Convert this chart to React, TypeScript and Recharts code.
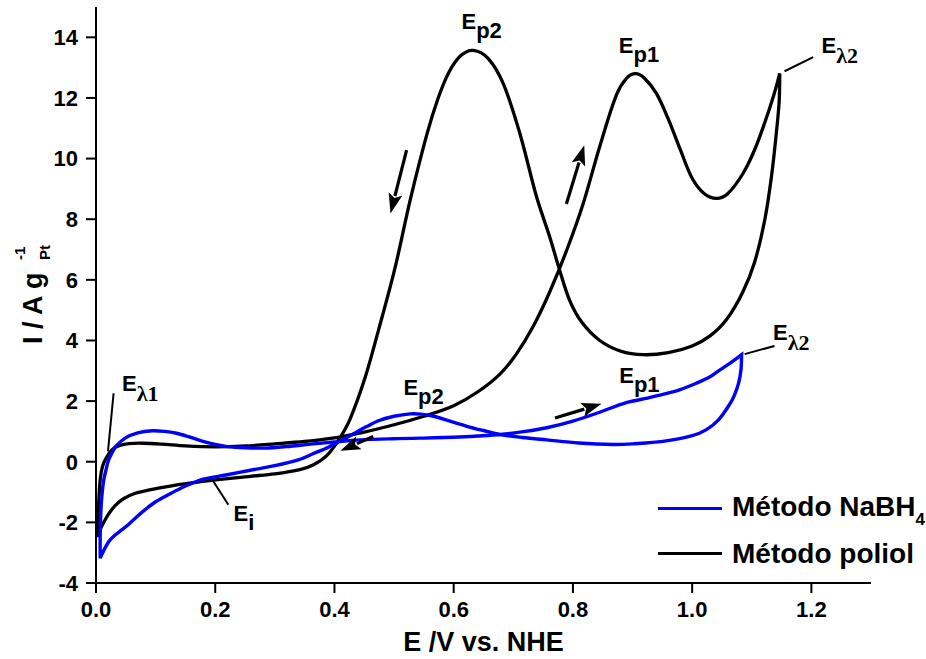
import React from 'react';
import { ComposedChart, Line, XAxis, YAxis, ReferenceLine, ReferenceDot, Legend } from 'recharts';

const FONT = '"Liberation Sans", Arial, Helvetica, sans-serif';
const SERIF = '"Liberation Serif", "Times New Roman", serif';

// Método poliol (black) – potential (V) and current (A/g)
const poliolE = [
  0.2, 0.16, 0.122, 0.09, 0.066, 0.046, 0.032, 0.022, 0.015, 0.009, 0.005, 0.003, 0.003,
  0.004, 0.007, 0.011, 0.017, 0.027, 0.04, 0.055, 0.08, 0.11, 0.15, 0.2, 0.25, 0.3, 0.35, 0.4,
  0.45, 0.5, 0.55, 0.6, 0.64, 0.678, 0.705, 0.733, 0.761, 0.79, 0.817, 0.845, 0.873, 0.89, 0.905,
  0.92, 0.94, 0.96, 0.98, 1.0, 1.02, 1.041, 1.06, 1.085, 1.105, 1.122, 1.137, 1.147, 1.147,
  1.146, 1.141, 1.133, 1.122, 1.105, 1.085, 1.058, 1.03, 1.0, 0.96, 0.918, 0.88, 0.845, 0.815,
  0.795, 0.778, 0.761, 0.739, 0.711, 0.683, 0.658, 0.633, 0.612, 0.592, 0.574, 0.555, 0.527,
  0.502, 0.474, 0.451, 0.426, 0.407, 0.387, 0.365, 0.342, 0.3, 0.259, 0.2,
];
const poliolI = [
  -0.6, -0.7, -0.81, -0.93, -1.04, -1.22, -1.45, -1.7, -1.93, -2.15, -2.35, -2.48, -2.48,
  -1.6, -0.6, -0.15, 0.12, 0.4, 0.54, 0.6, 0.61, 0.58, 0.52, 0.49, 0.52, 0.59, 0.67, 0.79,
  0.98, 1.22, 1.5, 1.85, 2.3, 2.9, 3.55, 4.45, 5.6, 7.0, 8.5, 10.4, 12.1, 12.65, 12.8,
  12.65, 12.15, 11.3, 10.3, 9.35, 8.85, 8.69, 8.85, 9.5, 10.3, 11.2, 12.1, 12.81, 12.81,
  11.9, 10.8, 9.4, 8.0, 6.6, 5.6, 4.7, 4.15, 3.82, 3.6, 3.53, 3.65, 4.0, 4.6,
  5.3, 6.3, 7.42, 8.74, 10.83, 12.48, 13.3, 13.57, 13.4, 12.85, 12.0, 10.8, 8.63,
  6.43, 4.35, 2.75, 1.4, 0.72, 0.2, -0.1, -0.26, -0.4, -0.48, -0.6,
];

// Método NaBH4 (blue)
const nabhE = [
  0.2, 0.178, 0.15, 0.122, 0.1, 0.083, 0.068, 0.055, 0.043, 0.032, 0.022, 0.015, 0.01, 0.007, 0.007,
  0.007, 0.008, 0.01, 0.013, 0.017, 0.021, 0.027, 0.034, 0.049, 0.07, 0.094, 0.115, 0.135, 0.155,
  0.178, 0.2, 0.22, 0.25, 0.284, 0.32, 0.36, 0.4, 0.443, 0.5, 0.55, 0.6, 0.64, 0.678, 0.72, 0.756,
  0.8, 0.84, 0.87, 0.896, 0.925, 0.951, 0.98, 1.007, 1.03, 1.046, 1.065, 1.083, 1.083,
  1.082, 1.078, 1.071, 1.063, 1.045, 1.024, 1.0, 0.951, 0.9, 0.868, 0.81, 0.756, 0.715, 0.678,
  0.65, 0.622, 0.595, 0.566, 0.545, 0.527, 0.5, 0.475, 0.454, 0.43, 0.41, 0.39, 0.365, 0.342,
  0.3, 0.259, 0.22, 0.2,
];
const nabhI = [
  -0.5, -0.58, -0.8, -1.08, -1.32, -1.57, -1.82, -2.06, -2.25, -2.42, -2.62, -2.85, -3.05, -3.18, -3.18,
  -2.5, -1.7, -1.1, -0.6, -0.25, 0.05, 0.3, 0.52, 0.78, 0.95, 1.02, 1.0, 0.94, 0.83,
  0.68, 0.57, 0.5, 0.46, 0.45, 0.5, 0.58, 0.65, 0.72, 0.76, 0.78, 0.81, 0.85, 0.9, 1.0, 1.12,
  1.34, 1.6, 1.82, 1.98, 2.1, 2.22, 2.38, 2.59, 2.8, 3.02, 3.27, 3.53, 3.53,
  3.05, 2.6, 2.2, 1.9, 1.4, 1.06, 0.86, 0.67, 0.59, 0.57, 0.62, 0.72, 0.8, 0.9,
  1.03, 1.17, 1.33, 1.5, 1.57, 1.58, 1.5, 1.36, 1.16, 0.9, 0.68, 0.48, 0.27, 0.08,
  -0.13, -0.28, -0.43, -0.5,
];

const xTicks = [0, 0.2, 0.4, 0.6, 0.8, 1.0, 1.2];
const yTicks = [-4, -2, 0, 2, 4, 6, 8, 10, 12, 14];

const legendLabels = [
  { name: 'Método NaBH', sub: '4', color: '#0000ff' },
  { name: 'Método poliol', sub: '', color: '#000000' },
];

// annotation labels: anchor (E, I) of the baseline-left of "E"
const annotations = [
  { x: 0.613, y: 14.29, main: 'E', sub: 'p2', greek: false },
  { x: 0.877, y: 13.47, main: 'E', sub: 'p1', greek: false },
  { x: 1.217, y: 13.47, main: 'E', sub: 'λ2', greek: true },
  { x: 0.0436, y: 2.34, main: 'E', sub: 'λ1', greek: true },
  { x: 0.2307, y: -1.97, main: 'E', sub: 'i', greek: false },
  { x: 0.5156, y: 2.21, main: 'E', sub: 'p2', greek: false },
  { x: 0.8777, y: 2.59, main: 'E', sub: 'p1', greek: false },
  { x: 1.1358, y: 4.02, main: 'E', sub: 'λ2', greek: true },
];

const leaders = [
  [{ x: 1.155, y: 12.88 }, { x: 1.203, y: 13.35 }],
  [{ x: 0.0295, y: 2.26 }, { x: 0.0201, y: 0.34 }],
  [{ x: 0.197, y: -0.65 }, { x: 0.222, y: -1.42 }],
  [{ x: 1.088, y: 3.55 }, { x: 1.138, y: 3.82 }],
];

const arrows = [
  [{ x: 0.521, y: 10.28 }, { x: 0.494, y: 8.19 }],
  [{ x: 0.789, y: 8.5 }, { x: 0.819, y: 10.44 }],
  [{ x: 0.465, y: 0.83 }, { x: 0.41, y: 0.36 }],
  [{ x: 0.77, y: 1.44 }, { x: 0.848, y: 1.91 }],
];

const zip = (xs: number[], ys: number[]) => xs.map((x, i) => ({ x, y: ys[i] }));
const poliolData = zip(poliolE, poliolI);
const nabhData = zip(nabhE, nabhI);

// smooth parametric curve (chord-length Catmull-Rom); repeated points mark sharp corners
const smoothCurve = (context: any) => {
  let pts: { x: number; y: number; c: boolean }[] = [];
  return {
    areaStart() {},
    areaEnd() {},
    lineStart() {
      pts = [];
    },
    point(x: number, y: number) {
      pts.push({ x: +x, y: +y, c: false });
    },
    lineEnd() {
      const P: { x: number; y: number; c: boolean }[] = [];
      for (const p of pts) {
        const last = P[P.length - 1];
        if (last && Math.abs(last.x - p.x) < 0.01 && Math.abs(last.y - p.y) < 0.01) {
          last.c = true;
          continue;
        }
        P.push({ ...p });
      }
      const n = P.length;
      if (!n) return;
      context.moveTo(P[0].x, P[0].y);
      if (n === 1) return;
      const d: number[] = [];
      for (let i = 0; i < n - 1; i++) d.push(Math.hypot(P[i + 1].x - P[i].x, P[i + 1].y - P[i].y) || 1e-6);
      const tin: { x: number; y: number }[] = [];
      const tout: { x: number; y: number }[] = [];
      for (let i = 0; i < n; i++) {
        if (i === 0) {
          const t = { x: (P[1].x - P[0].x) / d[0], y: (P[1].y - P[0].y) / d[0] };
          tin[i] = t;
          tout[i] = t;
        } else if (i === n - 1) {
          const t = { x: (P[i].x - P[i - 1].x) / d[i - 1], y: (P[i].y - P[i - 1].y) / d[i - 1] };
          tin[i] = t;
          tout[i] = t;
        } else if (P[i].c) {
          tin[i] = { x: (P[i].x - P[i - 1].x) / d[i - 1], y: (P[i].y - P[i - 1].y) / d[i - 1] };
          tout[i] = { x: (P[i + 1].x - P[i].x) / d[i], y: (P[i + 1].y - P[i].y) / d[i] };
        } else {
          const s = d[i - 1] + d[i];
          const t = { x: (P[i + 1].x - P[i - 1].x) / s, y: (P[i + 1].y - P[i - 1].y) / s };
          tin[i] = t;
          tout[i] = t;
        }
      }
      for (let i = 0; i < n - 1; i++) {
        const k = d[i] / 3;
        context.bezierCurveTo(
          P[i].x + tout[i].x * k,
          P[i].y + tout[i].y * k,
          P[i + 1].x - tin[i + 1].x * k,
          P[i + 1].y - tin[i + 1].y * k,
          P[i + 1].x,
          P[i + 1].y
        );
      }
    },
  };
};

const AnnLabel = (props: any) => {
  const { cx, cy, main, sub, greek } = props;
  return (
    <text x={cx} y={cy} fontFamily={FONT} fontWeight="bold" fontSize={22} fill="#000">
      {main}
      <tspan dy={greek ? 10 : 9} fontFamily={greek ? SERIF : FONT} fontSize={22}>
        {sub}
      </tspan>
    </text>
  );
};

const ArrowShape = (props: any) => {
  const { x1, y1, x2, y2 } = props;
  const dx = x2 - x1;
  const dy = y2 - y1;
  const len = Math.hypot(dx, dy) || 1;
  const ux = dx / len;
  const uy = dy / len;
  const hl = 20;
  const hw = 7;
  const bx = x2 - ux * hl;
  const by = y2 - uy * hl;
  return (
    <g>
      <line x1={x1} y1={y1} x2={bx + ux * 2} y2={by + uy * 2} stroke="#000" strokeWidth={3.2} />
      <polygon
        points={`${x2},${y2} ${bx - uy * hw},${by + ux * hw} ${bx + ux * 4},${by + uy * 4} ${bx + uy * hw},${by - ux * hw}`}
        fill="#000"
      />
    </g>
  );
};

const YTitle = () => (
  <g transform="translate(42, 344) rotate(-90)">
    <text x={0} y={0} fontFamily={FONT} fontWeight="bold" fontSize={27} fill="#000">
      I / A g
    </text>
    <text x={84} y={-17} fontFamily={FONT} fontWeight="bold" fontSize={15} fill="#000">
      -1
    </text>
    <text x={84} y={8} fontFamily={FONT} fontWeight="bold" fontSize={15} fill="#000">
      Pt
    </text>
  </g>
);

const XTitle = () => (
  <text x={483.5} y={651} textAnchor="middle" fontFamily={FONT} fontWeight="bold" fontSize={27} fill="#000">
    E /V vs. NHE
  </text>
);

const LegendContent = () => (
  <div style={{ fontFamily: FONT, fontWeight: 'bold', fontSize: 28, color: '#000' }}>
    {legendLabels.map((it) => (
      <div key={it.name} style={{ display: 'flex', alignItems: 'center', height: 45 }}>
        <div style={{ width: 64, height: 3.5, background: it.color }} />
        <div style={{ marginLeft: 10, lineHeight: '28px', whiteSpace: 'nowrap' }}>
          {it.name}
          {it.sub ? (
            <span style={{ fontSize: 17, position: 'relative', top: 9 }}>{it.sub}</span>
          ) : null}
        </div>
      </div>
    ))}
  </div>
);

const tickStyle = { fill: '#000', fontSize: 22, fontWeight: 'bold', fontFamily: FONT };

export default function App() {
  return (
    <div style={{ position: 'absolute', left: 0, top: 0, width: 926, height: 659, background: '#fff' }}>
      <ComposedChart width={926} height={659} margin={{ top: 7, right: 55, bottom: 36, left: 36 }}>
        <XAxis
          type="number"
          dataKey="x"
          domain={[0, 1.3]}
          ticks={xTicks}
          interval={0}
          allowDataOverflow
          height={40}
          tickFormatter={(v: number) => v.toFixed(1)}
          axisLine={{ stroke: '#000', strokeWidth: 2 }}
          tickLine={{ stroke: '#000', strokeWidth: 2 }}
          tickSize={10}
          tickMargin={8}
          tick={tickStyle}
          label={<XTitle />}
        />
        <YAxis
          type="number"
          dataKey="y"
          domain={[-4, 15]}
          ticks={yTicks}
          interval={0}
          allowDataOverflow
          width={60}
          axisLine={{ stroke: '#000', strokeWidth: 2 }}
          tickLine={{ stroke: '#000', strokeWidth: 2 }}
          tickSize={10}
          tickMargin={8}
          tick={tickStyle}
          label={<YTitle />}
        />
        <Line
          data={poliolData}
          dataKey="y"
          name="Método poliol"
          type={smoothCurve as any}
          stroke="#000000"
          strokeWidth={3.3}
          dot={false}
          activeDot={false}
          isAnimationActive={false}
        />
        <Line
          data={nabhData}
          dataKey="y"
          name="Método NaBH4"
          type={smoothCurve as any}
          stroke="#0000ff"
          strokeWidth={3.4}
          dot={false}
          activeDot={false}
          isAnimationActive={false}
        />
        {leaders.map((seg, i) => (
          <ReferenceLine key={'l' + i} segment={seg} stroke="#000" strokeWidth={2} ifOverflow="visible" />
        ))}
        {arrows.map((seg, i) => (
          <ReferenceLine key={'a' + i} segment={seg} ifOverflow="visible" shape={(p: any) => <ArrowShape {...p} />} />
        ))}
        {annotations.map((a, i) => (
          <ReferenceDot
            key={'t' + i}
            x={a.x}
            y={a.y}
            r={1}
            ifOverflow="visible"
            shape={(p: any) => <AnnLabel cx={p.cx} cy={p.cy} main={a.main} sub={a.sub} greek={a.greek} />}
          />
        ))}
        <Legend
          layout="vertical"
          align="center"
          verticalAlign="middle"
          wrapperStyle={{ left: 658, top: 486, width: 268 }}
          content={<LegendContent />}
        />
      </ComposedChart>
    </div>
  );
}
